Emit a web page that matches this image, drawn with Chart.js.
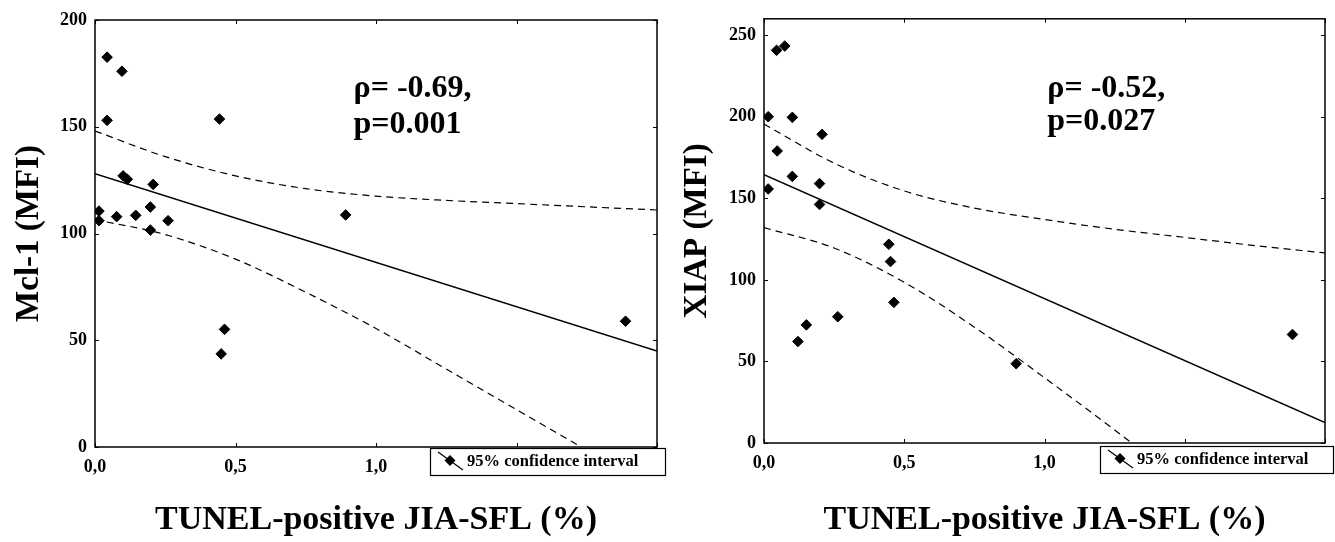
<!DOCTYPE html>
<html><head><meta charset="utf-8">
<script src="https://cdn.jsdelivr.net/npm/chart.js@4.4.1/dist/chart.umd.min.js"></script>
<style>
html,body{margin:0;padding:0;background:#fff;overflow:hidden;}
#wrap{position:relative;width:1335px;height:542px;background:#fff;}
.c{position:absolute;top:0;width:667px;height:542px;}
</style></head><body>
<div id="wrap">
<div class="c" style="left:0"><canvas id="left" width="667" height="542"></canvas></div>
<div class="c" style="left:668px"><canvas id="right" width="667" height="542"></canvas></div>
</div>
<script>
// ---- data ----
const xTicks = [0, 0.5, 1.0, 1.5, 2.0];
const mclTicks = [0, 50, 100, 150, 200];
const xiapTicks = [0, 50, 100, 150, 200, 250];

const mclX = [0.043, 0.096, 0.043, 0.443, 0.100, 0.115, 0.207, 0.014, 0.014, 0.077, 0.145, 0.197, 0.197, 0.260, 0.461, 0.449, 0.892, 1.888];
const mclY = [182.6, 176.0, 153.0, 153.6, 127.0, 125.4, 123.0, 110.5, 106.0, 107.9, 108.5, 112.4, 101.6, 106.0, 55.1, 43.6, 108.7, 58.9];

const xiapX = [0.045, 0.074, 0.015, 0.101, 0.207, 0.047, 0.101, 0.198, 0.198, 0.015, 0.445, 0.451, 0.463, 0.263, 0.151, 0.121, 0.899, 1.884];
const xiapY = [240.7, 243.3, 200.0, 199.6, 189.2, 179.0, 163.4, 159.0, 146.2, 155.7, 121.8, 111.2, 86.2, 77.4, 72.4, 62.2, 48.6, 66.5];

const fitX = [0, 2.0];
const mclFit = [128, 45];
const xiapFit = [164.5, 12.5];

const ciX = [0, 0.25, 0.5, 0.75, 1.0, 1.25, 1.5, 1.75, 2.0];
const mclUpper = [148, 136, 127, 121, 117.5, 115.5, 114, 112.5, 111];
const mclLower = [106.5, 99.5, 88, 72.5, 55.5, 36.5, 17.5, -1.5, -21];
const xiapUpper = [195.5, 171.5, 154.5, 144, 137, 131, 126, 121, 116.5];
const xiapLower = [132, 119.5, 98.5, 71, 40, 8, -25, -58, -92];

const mclStats = ['\u03c1= -0.69,', 'p=0.001'];
const xiapStats = ['\u03c1= -0.52,', 'p=0.027'];
const legendText = '95% confidence interval';
const xTitle = 'TUNEL-positive JIA-SFL (%)';

// ---- drawing ----
const SERIF = "'Liberation Serif', 'Times New Roman', serif";

function pairs(xs, ys) { return xs.map((x, i) => ({x: x, y: ys[i]})); }

function buildChart(id, o) {
  const framePlugin = {
    id: 'frame_' + id,
    afterDraw(chart) {
      const c = chart.ctx, a = chart.chartArea;
      const sx = chart.scales.x, sy = chart.scales.y;
      c.save();
      c.strokeStyle = '#000';
      c.lineWidth = 1.5;
      c.strokeRect(a.left, a.top, a.right - a.left, a.bottom - a.top);
      c.lineWidth = 1;
      c.beginPath();
      sx.ticks.forEach(t => {
        const px = Math.round(sx.getPixelForValue(t.value)) + 0.5;
        c.moveTo(px, a.bottom); c.lineTo(px, a.bottom - 4);
        c.moveTo(px, a.top); c.lineTo(px, a.top + 4);
      });
      sy.ticks.forEach(t => {
        const py = Math.round(sy.getPixelForValue(t.value)) + 0.5;
        c.moveTo(a.left, py); c.lineTo(a.left + 4, py);
        c.moveTo(a.right, py); c.lineTo(a.right - 4, py);
      });
      c.stroke();

      // statistics annotation
      c.fillStyle = '#000';
      c.font = 'bold 32px ' + SERIF;
      c.textAlign = 'left';
      c.textBaseline = 'alphabetic';
      o.stats.forEach((s, i) => {
        c.fillText(s, sx.getPixelForValue(o.annX), sy.getPixelForValue(o.annY[i]));
      });

      // legend box
      const lx = a.left + o.legDx, ly = a.bottom + o.legDy;
      const lw = chart.width - 1 - lx, lh = 28;
      c.fillStyle = '#fff';
      c.fillRect(lx, ly, lw, lh);
      c.strokeStyle = '#000';
      c.lineWidth = 1.2;
      c.strokeRect(lx + 0.5, ly + 0.5, lw - 1, lh - 1);
      c.beginPath();
      c.moveTo(lx + 8, ly + 4);
      c.lineTo(lx + 33, ly + 22);
      c.stroke();
      const dx = lx + 20, dy = ly + 12.5, r = 5.5;
      c.fillStyle = '#000';
      c.beginPath();
      c.moveTo(dx - r, dy); c.lineTo(dx, dy - r); c.lineTo(dx + r, dy); c.lineTo(dx, dy + r);
      c.closePath(); c.fill();
      c.font = 'bold 16.5px ' + SERIF;
      c.textBaseline = 'middle';
      c.fillText(legendText, lx + 37, ly + 14);
      c.restore();
    }
  };

  return new Chart(document.getElementById(id), {
    type: 'scatter',
    data: {
      datasets: [
        { data: pairs(o.xs, o.ys), pointStyle: 'rectRot', pointRadius: 5.3, pointHoverRadius: 5.3,
          backgroundColor: '#000', borderColor: '#000', borderWidth: 1, showLine: false },
        { type: 'line', data: pairs(fitX, o.fit), borderColor: '#000', borderWidth: 1.5,
          pointRadius: 0, fill: false, tension: 0 },
        { type: 'line', data: pairs(ciX, o.up), borderColor: '#000', borderWidth: 1.2,
          borderDash: [7, 5], pointRadius: 0, fill: false, cubicInterpolationMode: 'monotone' },
        { type: 'line', data: pairs(ciX, o.lo), borderColor: '#000', borderWidth: 1.2,
          borderDash: [7, 5], pointRadius: 0, fill: false, cubicInterpolationMode: 'monotone' }
      ]
    },
    options: {
      responsive: false,
      animation: false,
      events: [],
      layout: { padding: o.pad },
      plugins: { legend: { display: false }, tooltip: { enabled: false } },
      scales: {
        x: {
          type: 'linear', min: 0, max: 2,
          afterBuildTicks: s => { s.ticks = xTicks.map(v => ({value: v})); },
          afterFit: s => { s.height = o.xAxisH; },
          ticks: {
            autoSkip: false, maxRotation: 0, padding: 10, color: '#000',
            font: { family: SERIF, weight: 'bold', size: 18 },
            callback: v => (v <= 1.0 ? v.toFixed(1).replace('.', ',') : '')
          },
          grid: { display: false, drawTicks: false },
          border: { display: false },
          title: { display: true, text: xTitle, color: '#000',
                   font: { family: SERIF, weight: 'bold', size: 34 }, padding: { top: 0, bottom: 1 } }
        },
        y: {
          type: 'linear', min: 0, max: o.yMax,
          afterBuildTicks: s => { s.ticks = o.yTicks.map(v => ({value: v})); },
          afterFit: s => { s.width = o.yAxisW; },
          ticks: { padding: 8, color: '#000', font: { family: SERIF, weight: 'bold', size: 18 } },
          grid: { display: false, drawTicks: false },
          border: { display: false },
          title: { display: true, text: o.yTitle, color: '#000',
                   font: { family: SERIF, weight: 'bold', size: 33 }, padding: { top: 10, bottom: 0 } }
        }
      }
    },
    plugins: [framePlugin]
  });
}

buildChart('left', {
  xs: mclX, ys: mclY, fit: mclFit, up: mclUpper, lo: mclLower,
  yMax: 200, yTicks: mclTicks, yTitle: 'Mcl-1 (MFI)', stats: mclStats,
  annX: 0.92, annY: [164, 147],
  pad: { left: 0, right: 9, top: 20, bottom: 0 }, yAxisW: 95, xAxisH: 95,
  legDx: 335, legDy: 1
});

buildChart('right', {
  xs: xiapX, ys: xiapY, fit: xiapFit, up: xiapUpper, lo: xiapLower,
  yMax: 260, yTicks: xiapTicks, yTitle: 'XIAP (MFI)', stats: xiapStats,
  annX: 1.01, annY: [212, 192],
  pad: { left: 0, right: 7, top: 16, bottom: 0 }, yAxisW: 96, xAxisH: 99,
  legDx: 336, legDy: 3
});
</script>
</body></html>
